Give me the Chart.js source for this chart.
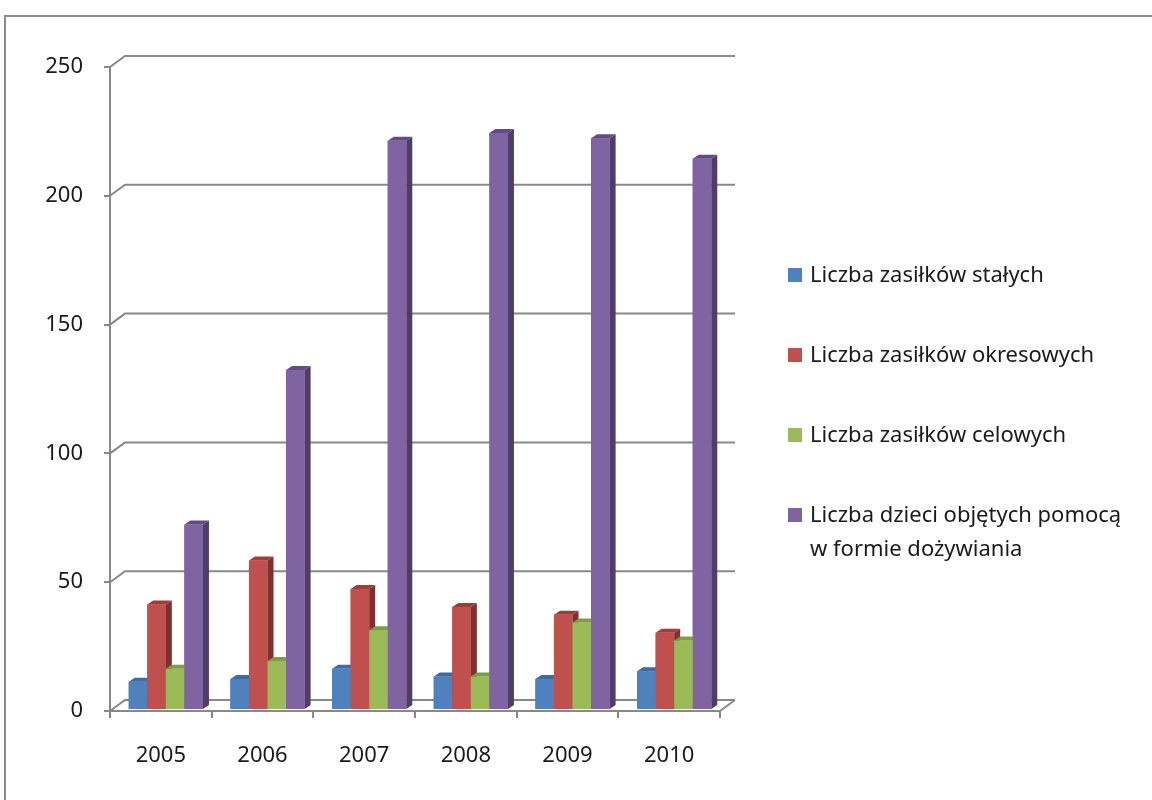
<!DOCTYPE html>
<html>
<head>
<meta charset="utf-8">
<script src="https://cdn.jsdelivr.net/npm/chart.js@4/dist/chart.umd.min.js"></script>
<style>
  html, body { margin: 0; padding: 0; background: #fff; }
  canvas { display: block; }
</style>
</head>
<body>
<canvas id="myChart" width="1152" height="800"></canvas>
<script>
const years = ['2005', '2006', '2007', '2008', '2009', '2010']
const stale = [11, 12, 16, 13, 12, 15]
const okresowe = [41, 58, 47, 40, 37, 30]
const celowe = [16, 19, 31, 13, 34, 27]
const dzieci = [72, 132, 221, 224, 222, 214]
const seriesNames = [
    'Liczba zasiłków stałych',
    'Liczba zasiłków okresowych',
    'Liczba zasiłków celowych',
    'Liczba dzieci objętych pomocą\nw formie dożywiania'
]
const yMax = 250
const yStep = 50

const frontColors = ['#4f81bd', '#c0504d', '#9bbb59', '#8064a2']
const topColors = ['#3d6aa1', '#9e3d3a', '#7f9c45', '#624c83']
const sideColors = ['#2f5381', '#7e302e', '#627a34', '#4e3c69']
const lineColor = '#888888'
const fontFamily = '"Noto Sans", sans-serif'

// depth of the back wall and of each bar
const wallDx = 15, wallDy = -11
const barDx = 6, barDy = -4
const shiftX = 5, shiftY = -1

const wall3d = {
    id: 'wall3d',
    beforeDraw(chart) {
        const ctx = chart.ctx
        ctx.save()
        ctx.strokeStyle = '#8a8a8a'
        ctx.lineWidth = 2
        ctx.strokeRect(5, 16, 1200, 900)
        ctx.restore()
    },
    beforeDatasetsDraw(chart) {
        const ctx = chart.ctx
        const area = chart.chartArea
        const y = chart.scales.y
        ctx.save()
        ctx.strokeStyle = lineColor
        ctx.lineWidth = 2
        y.ticks.forEach(t => {
            const py = y.getPixelForValue(t.value)
            ctx.beginPath()
            ctx.moveTo(area.left, py)
            ctx.lineTo(area.left + wallDx, py + wallDy)
            ctx.lineTo(area.right + wallDx, py + wallDy)
            ctx.stroke()
        })
        // floor right edge
        const p0 = y.getPixelForValue(0)
        ctx.beginPath()
        ctx.moveTo(area.right, p0)
        ctx.lineTo(area.right + wallDx, p0 + wallDy)
        ctx.stroke()
        ctx.restore()

        ctx.save()
        ctx.translate(shiftX, shiftY)
    },
    afterDatasetsDraw(chart) {
        const ctx = chart.ctx
        chart.data.datasets.forEach((ds, i) => {
            const meta = chart.getDatasetMeta(i)
            meta.data.forEach(bar => {
                const p = bar.getProps(['x', 'y', 'base', 'width'], true)
                const l = p.x - p.width / 2
                const r = p.x + p.width / 2
                ctx.fillStyle = sideColors[i]
                ctx.beginPath()
                ctx.moveTo(r, p.y)
                ctx.lineTo(r + barDx, p.y + barDy)
                ctx.lineTo(r + barDx, p.base + barDy)
                ctx.lineTo(r, p.base)
                ctx.closePath()
                ctx.fill()
                ctx.fillStyle = topColors[i]
                ctx.beginPath()
                ctx.moveTo(l, p.y)
                ctx.lineTo(l + barDx, p.y + barDy)
                ctx.lineTo(r + barDx, p.y + barDy)
                ctx.lineTo(r, p.y)
                ctx.closePath()
                ctx.fill()
                ctx.fillStyle = frontColors[i]
                ctx.fillRect(l, p.y, p.width, p.base - p.y)
            })
        })
        ctx.restore()
    },
    afterDraw(chart) {
        // legend on the right
        const ctx = chart.ctx
        const legendX = 788
        const legendY = [275, 355, 435, 515]
        ctx.save()
        ctx.font = '22px ' + fontFamily
        ctx.textBaseline = 'middle'
        chart.data.datasets.forEach((ds, i) => {
            ctx.fillStyle = frontColors[i]
            ctx.fillRect(legendX, legendY[i] - 7, 14, 14)
            ctx.fillStyle = '#1a1a1a'
            ds.label.split('\n').forEach((line, j) => {
                ctx.fillText(line, legendX + 22, legendY[i] + 1 + j * 34)
            })
        })
        ctx.restore()
    }
}

const ctx = document.getElementById('myChart').getContext('2d')
const myChart = new Chart(ctx, {
    type: 'bar',
    data: {
        labels: years,
        datasets: [stale, okresowe, celowe, dzieci].map((values, i) => ({
            label: seriesNames[i],
            data: values,
            backgroundColor: frontColors[i],
            borderWidth: 0
        }))
    },
    options: {
        responsive: false,
        animation: false,
        layout: {
            padding: { top: 67, right: 432, bottom: 0, left: 0 }
        },
        datasets: {
            bar: { categoryPercentage: 0.73, barPercentage: 1 }
        },
        plugins: {
            legend: { display: false },
            tooltip: { enabled: false }
        },
        scales: {
            x: {
                afterFit(scale) { scale.height = 89 },
                grid: { offset: true, drawOnChartArea: false, tickLength: 7, color: lineColor, lineWidth: 2 },
                border: { color: lineColor, width: 2 },
                ticks: { color: '#1a1a1a', padding: 25, font: { family: fontFamily, size: 22 } }
            },
            y: {
                min: 0,
                max: yMax,
                afterFit(scale) { scale.width = 110 },
                grid: { drawOnChartArea: false, tickLength: 6, color: lineColor, lineWidth: 2 },
                border: { color: lineColor, width: 2 },
                ticks: { stepSize: yStep, color: '#1a1a1a', padding: 21, font: { family: fontFamily, size: 22 } }
            }
        }
    },
    plugins: [wall3d]
})
</script>
</body>
</html>
